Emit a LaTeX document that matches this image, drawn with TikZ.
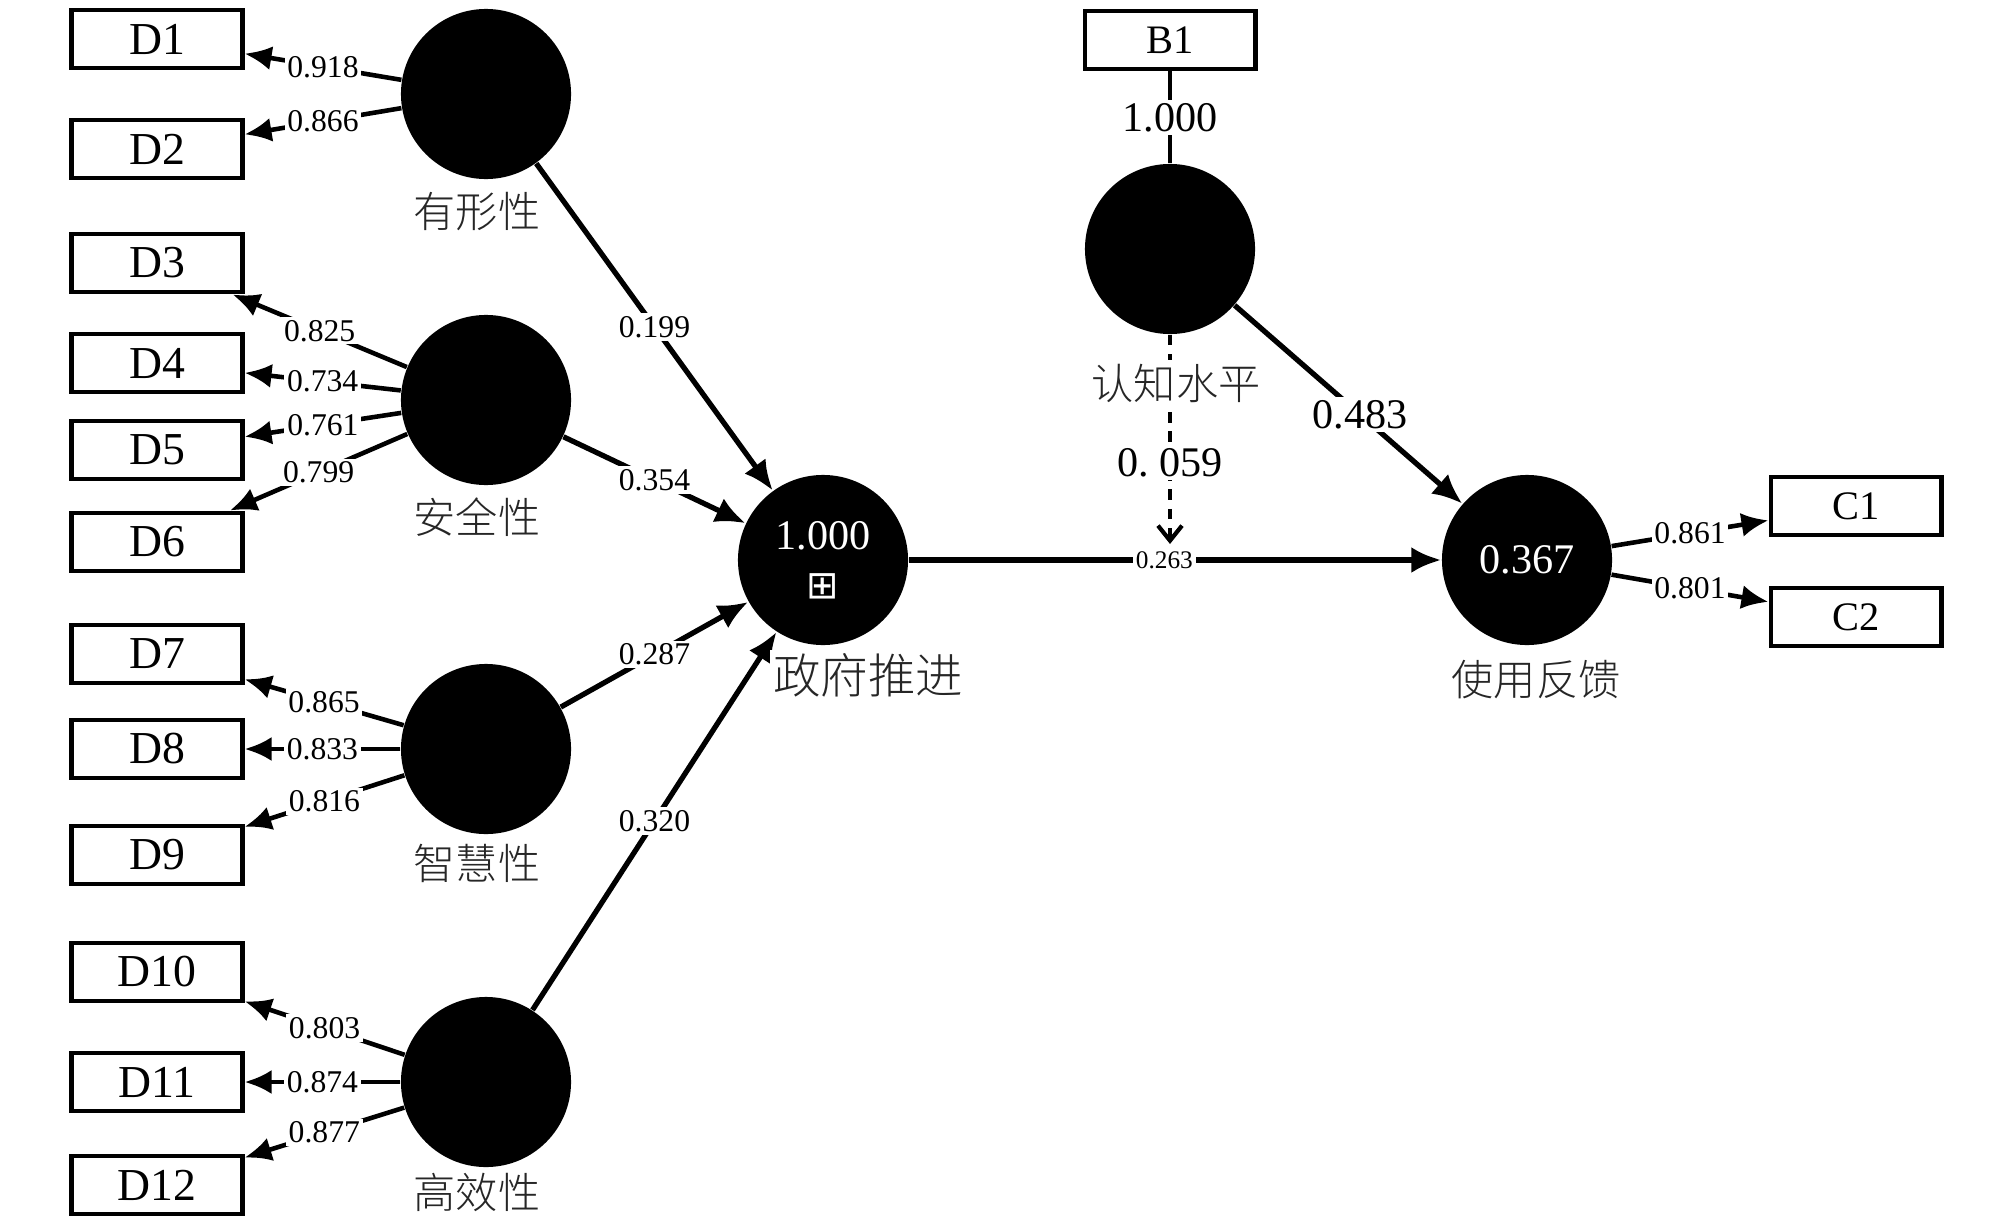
\documentclass[tikz,border=0pt]{standalone}
\usepackage{fontspec}
\setmainfont{Liberation Serif}
\newfontfamily\cjk{Noto Sans CJK SC}[UprightFont={* Light}]
\newfontfamily\dvfont{DejaVu Sans}
\usetikzlibrary{positioning,arrows.meta}

\begin{document}
\begin{tikzpicture}[x=0.01cm,y=-0.01cm,on grid,
  ind/.style={draw,line width=1.4pt,minimum width=1.7cm,minimum height=0.58cm,inner sep=0pt,font=\fontsize{13}{15}\selectfont},
  ind2/.style={ind,font=\fontsize{11.5}{13}\selectfont},
  lv/.style={circle,fill=black,minimum size=1.7cm,inner sep=0pt,text=white,align=center,font=\fontsize{12}{14}\selectfont},
  lvname/.style={fill=white,inner sep=1pt,text=black!85,font=\cjk\fontsize{12}{14}\selectfont},
  ldg/.style={fill=white,inner sep=0.8pt,font=\fontsize{9}{10}\selectfont},
  coef/.style={fill=white,inner sep=1pt,font=\fontsize{12}{14}\selectfont},
  outer/.style={line width=1.3pt,-{Latex[length=2.7mm,width=2.4mm]}},
  inner/.style={line width=1.5pt,-{Latex[length=3mm,width=2.6mm]}}
]
\useasboundingbox (0,0) rectangle (2000,1230);
% indicators
\node[ind] (D1)  at (157,39)   {D1};
\node[ind] (D2)  at (157,149)  {D2};
\node[ind] (D3)  at (157,263)  {D3};
\node[ind] (D4)  at (157,363)  {D4};
\node[ind] (D5)  at (157,450)  {D5};
\node[ind] (D6)  at (157,542)  {D6};
\node[ind] (D7)  at (157,654)  {D7};
\node[ind] (D8)  at (157,749)  {D8};
\node[ind] (D9)  at (157,855)  {D9};
\node[ind] (D10) at (157,972)  {D10};
\node[ind] (D11) at (157,1082) {D11};
\node[ind] (D12) at (157,1185) {D12};
\node[ind2] (B1) at (1170,40)  {B1};
\node[ind2] (C1) at (1856,506) {C1};
\node[ind2] (C2) at (1856,617) {C2};
% latent variables
\node[lv] (tang)  at (486,94)   {};
\node[lv] (safe)  at (486,400)  {};
\node[lv] (smart) at (486,749)  {};
\node[lv] (eff)   at (486,1082) {};
\node[lv] (gov)   at (823,560)  {1.000\\{\dvfont\fontsize{11}{11}\selectfont ⊞}};
\node[lv] (cog)   at (1170,249) {};
\node[lv] (use)   at (1527,560) {0.367};
\path (cog |- gov) ++(0,-16) coordinate (mod);
\path[outer]
 (tang)  edge node[ldg] {0.918} (D1)
 (tang)  edge node[ldg] {0.866} (D2)
 (safe)  edge node[ldg] {0.825} (D3)
 (safe)  edge node[ldg] {0.734} (D4)
 (safe)  edge node[ldg] {0.761} (D5)
 (safe)  edge node[ldg] {0.799} (D6)
 (smart) edge node[ldg] {0.865} (D7)
 (smart) edge node[ldg] {0.833} (D8)
 (smart) edge node[ldg] {0.816} (D9)
 (eff)   edge node[ldg] {0.803} (D10)
 (eff)   edge node[ldg] {0.874} (D11)
 (eff)   edge node[ldg] {0.877} (D12)
 (use)   edge node[ldg] {0.861} (C1)
 (use)   edge node[ldg] {0.801} (C2)
;
\path[inner]
 (tang)  edge node[ldg] {0.199} (gov)
 (safe)  edge node[ldg] {0.354} (gov)
 (smart) edge node[ldg] {0.287} (gov)
 (eff)   edge node[ldg] {0.320} (gov)
 (gov)   edge node[ldg,pos=0.48,font=\fontsize{7.2}{8}\selectfont] {0.263} (use)
 (cog)   edge node[coef,pos=0.55] {0.483} (use)
;
\draw[line width=1.3pt] (B1) -- node[coef] {1.000} (cog);
\draw[line width=1.2pt,dash pattern=on 3pt off 2.5pt,-{Straight Barb[length=1.5mm,width=2.4mm]}]
 (cog) -- node[coef,pos=0.61] {0.\ 059} (mod);
% names
\node[lvname] [below=1.17cm of tang,xshift=-0.09cm]  {有形性};
\node[lvname] [below=1.17cm of safe,xshift=-0.09cm]  {安全性};
\node[lvname] [below=1.14cm of smart,xshift=-0.09cm] {智慧性};
\node[lvname] [below=1.1cm of eff,xshift=-0.09cm]    {高效性};
\node[lvname,font=\cjk\fontsize{13.5}{15}\selectfont] [below=1.15cm of gov,xshift=0.45cm] {政府推进};
\node[lvname] [below=1.34cm of cog,xshift=0.06cm]    {认知水平};
\node[lvname] [below=1.19cm of use,xshift=0.09cm]    {使用反馈};
\end{tikzpicture}
\end{document}
